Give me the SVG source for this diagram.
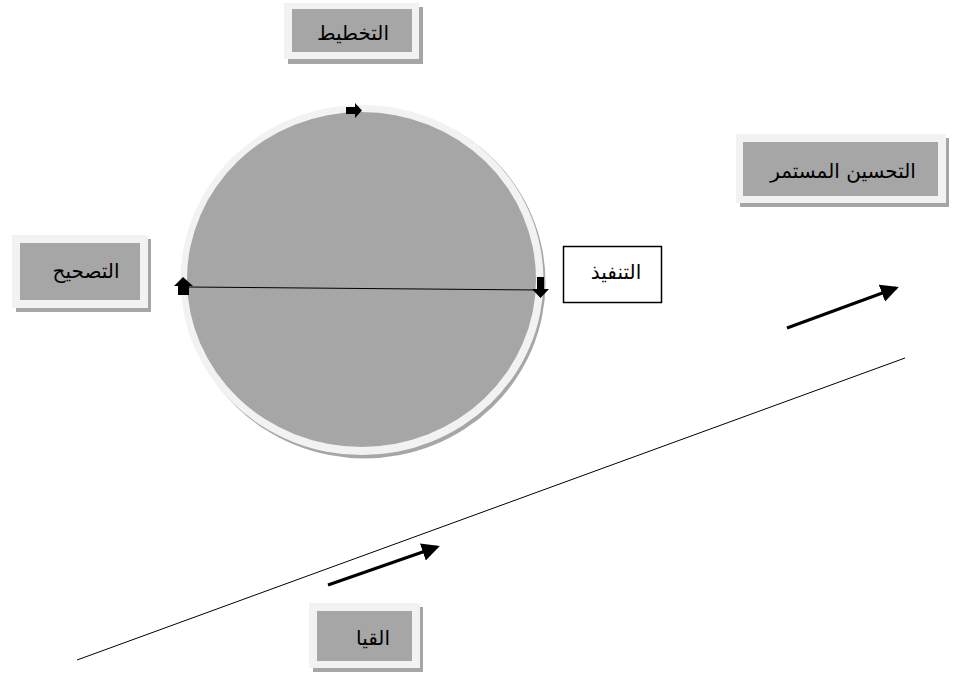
<svg xmlns="http://www.w3.org/2000/svg" width="954" height="675" viewBox="0 0 954 675">
<style>
.shadow{fill:#a6a6a6}
.outer{fill:#f2f2f2}
.inner{fill:#a6a6a6}
.lbl{font-family:"DejaVu Sans","Liberation Sans",sans-serif;font-size:20px;fill:#000;text-anchor:middle}
.thin{stroke:#000;stroke-width:1;fill:none}
.thick{stroke:#000;stroke-width:3;fill:none}
</style>
<defs>
<marker id="ah" markerWidth="6" markerHeight="6" refX="5" refY="3" orient="auto" markerUnits="strokeWidth" viewBox="0 0 6 6">
<path d="M0,0 L6,3 L0,6 Z" fill="#000"/>
</marker>
</defs>
<rect width="954" height="675" fill="#fff"/>

<g id="cycle">
<ellipse cx="364.5" cy="282.5" rx="181" ry="176" fill="#a6a6a6"/>
<ellipse cx="362" cy="280" rx="181.5" ry="175" fill="#f2f2f2"/>
<ellipse cx="361.5" cy="279.5" rx="174.5" ry="167.5" fill="#a6a6a6"/>
</g>

<g id="node-planning">
<rect class="shadow" x="288" y="7" width="135" height="57"/>
<rect class="outer" x="284" y="3" width="135" height="56"/>
<rect class="inner" x="292" y="9" width="120" height="43"/>
<text class="lbl" x="353" y="40">التخطيط</text>
</g>

<g id="node-correction">
<rect class="shadow" x="16" y="239" width="135" height="73"/>
<rect class="outer" x="12" y="235" width="136" height="73"/>
<rect class="inner" x="20" y="243" width="120" height="57"/>
<text class="lbl" x="86" y="278">التصحيح</text>
</g>

<g id="node-execution">
<rect x="563.5" y="246.5" width="98" height="56" fill="#fff" stroke="#000" stroke-width="1.5"/>
<text class="lbl" x="616" y="279">التنفيذ</text>
</g>

<g id="node-improvement">
<rect class="shadow" x="740" y="138" width="209" height="69"/>
<rect class="outer" x="736" y="134" width="210" height="69"/>
<rect class="inner" x="743" y="142" width="195" height="54"/>
<text class="lbl" x="843" y="178">التحسين المستمر</text>
</g>

<g id="node-measure">
<rect class="shadow" x="313" y="607" width="110" height="65"/>
<rect class="outer" x="309" y="603" width="111" height="65"/>
<rect class="inner" x="317" y="611" width="95" height="50"/>
<text class="lbl" x="373" y="645">القيا</text>
</g>

<g id="connectors">
<line class="thin" x1="188" y1="287" x2="538" y2="290"/>
<path d="M346,107 L355,107 L355,103 L362,110.5 L355,118 L355,114 L346,114 Z" fill="#000"/>
<path d="M183,277 L193,286 L189,286 L189,295 L178,295 L178,286 L174,286 Z" fill="#000"/>
<path d="M537,277 L544,277 L544,289 L549,289 L540.5,298 L532,289 L537,289 Z" fill="#000"/>
<line class="thin" x1="77" y1="660" x2="905" y2="358"/>
<line class="thick" x1="787" y1="328" x2="896" y2="288" marker-end="url(#ah)"/>
<line class="thick" x1="328" y1="585" x2="437" y2="547" marker-end="url(#ah)"/>
</g>
</svg>
